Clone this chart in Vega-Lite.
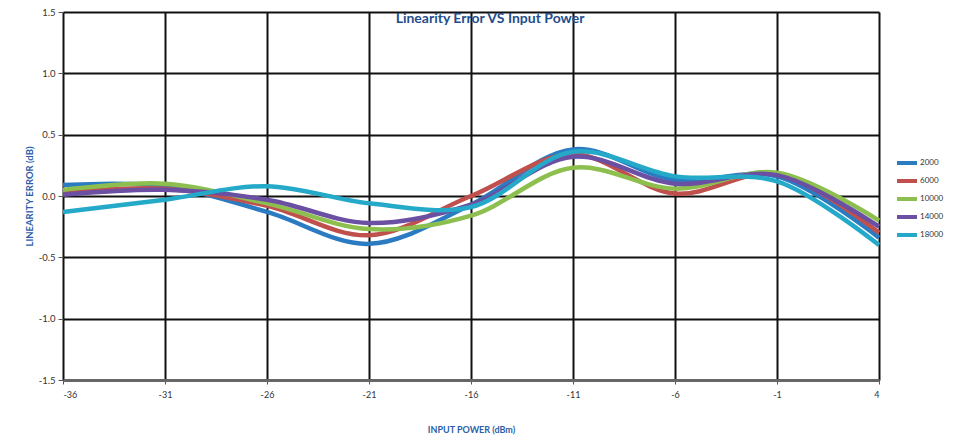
{
  "$schema": "https://vega.github.io/schema/vega-lite/v6.json",
  "width": 816,
  "height": 368,
  "autosize": {"type": "none"},
  "padding": {"left": 63, "top": 12, "right": 90, "bottom": 60},
  "background": "white",
  "config": {"view": {"stroke": null}, "font": "Lato"},
  "title": {
    "text": "Linearity Error VS Input Power",
    "color": "#1f4e8c",
    "fontSize": 14,
    "fontWeight": "bold",
    "font": "Lato",
    "anchor": "middle",
    "frame": "group",
    "offset": -19,
    "dx": 19
  },
  "data": {
    "values": [
      {"power": -36, "series": 2000, "error": 0.09},
      {"power": -31, "series": 2000, "error": 0.08},
      {"power": -26, "series": 2000, "error": -0.13},
      {"power": -21, "series": 2000, "error": -0.39},
      {"power": -16, "series": 2000, "error": -0.07},
      {"power": -11, "series": 2000, "error": 0.38},
      {"power": -6, "series": 2000, "error": 0.13},
      {"power": -1, "series": 2000, "error": 0.16},
      {"power": 4, "series": 2000, "error": -0.34},
      {"power": -36, "series": 6000, "error": 0.03},
      {"power": -31, "series": 6000, "error": 0.06},
      {"power": -26, "series": 6000, "error": -0.08},
      {"power": -21, "series": 6000, "error": -0.32},
      {"power": -16, "series": 6000, "error": 0.0},
      {"power": -11, "series": 6000, "error": 0.34},
      {"power": -6, "series": 6000, "error": 0.02},
      {"power": -1, "series": 6000, "error": 0.18},
      {"power": 4, "series": 6000, "error": -0.3},
      {"power": -36, "series": 10000, "error": 0.05},
      {"power": -31, "series": 10000, "error": 0.1},
      {"power": -26, "series": 10000, "error": -0.06},
      {"power": -21, "series": 10000, "error": -0.27},
      {"power": -16, "series": 10000, "error": -0.16},
      {"power": -11, "series": 10000, "error": 0.23},
      {"power": -6, "series": 10000, "error": 0.06},
      {"power": -1, "series": 10000, "error": 0.19},
      {"power": 4, "series": 10000, "error": -0.2},
      {"power": -36, "series": 14000, "error": 0.01},
      {"power": -31, "series": 14000, "error": 0.05},
      {"power": -26, "series": 14000, "error": -0.03},
      {"power": -21, "series": 14000, "error": -0.22},
      {"power": -16, "series": 14000, "error": -0.07},
      {"power": -11, "series": 14000, "error": 0.32},
      {"power": -6, "series": 14000, "error": 0.1},
      {"power": -1, "series": 14000, "error": 0.17},
      {"power": 4, "series": 14000, "error": -0.25},
      {"power": -36, "series": 18000, "error": -0.13},
      {"power": -31, "series": 18000, "error": -0.03},
      {"power": -26, "series": 18000, "error": 0.08},
      {"power": -21, "series": 18000, "error": -0.06},
      {"power": -16, "series": 18000, "error": -0.09},
      {"power": -11, "series": 18000, "error": 0.36},
      {"power": -6, "series": 18000, "error": 0.16},
      {"power": -1, "series": 18000, "error": 0.12},
      {"power": 4, "series": 18000, "error": -0.4}
    ]
  },
  "encoding": {
    "x": {
      "field": "power",
      "type": "quantitative",
      "scale": {"domain": [-36, 4], "nice": false, "zero": false},
      "axis": {
        "title": "INPUT POWER (dBm)",
        "values": [-36, -31, -26, -21, -16, -11, -6, -1, 4],
        "labelExpr": "replace(format(datum.value, 'd'), '\u2212', '-')",
        "grid": true,
        "gridColor": "#111111",
        "gridWidth": 2,
        "gridOpacity": 1,
        "domainColor": "#666666",
        "domainWidth": 3,
        "tickColor": "#555555",
        "tickSize": 4,
        "labelPadding": 6,
        "labelFontSize": 9,
        "labelColor": "#333333",
        "titleColor": "#2a5ea8",
        "titleFontSize": 9,
        "titleFontWeight": "bold",
        "titlePadding": 26
      }
    },
    "y": {
      "field": "error",
      "type": "quantitative",
      "scale": {"domain": [-1.5, 1.5], "nice": false},
      "axis": {
        "title": "LINEARITY ERROR (dB)",
        "values": [-1.5, -1.0, -0.5, 0.0, 0.5, 1.0, 1.5],
        "labelExpr": "replace(format(datum.value, '.1f'), '\u2212', '-')",
        "grid": true,
        "gridColor": "#111111",
        "gridWidth": 2,
        "gridOpacity": 1,
        "domain": false,
        "tickColor": "#555555",
        "tickSize": 5,
        "labelPadding": 3,
        "labelFontSize": 9.5,
        "labelColor": "#333333",
        "titleColor": "#2a5ea8",
        "titleFontSize": 9.5,
        "titleFontWeight": "bold",
        "titlePadding": 4
      }
    },
    "color": {
      "field": "series",
      "type": "nominal",
      "scale": {
        "domain": [2000, 6000, 10000, 14000, 18000],
        "range": ["#2a7bc2", "#c0504d", "#8dbf4f", "#6a4fa3", "#25a9c8"]
      },
      "legend": {
        "title": null,
        "orient": "none",
        "legendX": 832,
        "legendY": 145,
        "symbolType": "stroke",
        "symbolStrokeWidth": 4,
        "symbolSize": 400,
        "clipHeight": 12,
        "labelFontSize": 8,
        "labelColor": "#333333",
        "rowPadding": 6,
        "labelOffset": 1
      }
    }
  },
  "layer": [
    {
      "mark": {"type": "line", "interpolate": "catmull-rom", "strokeWidth": 4.5}
    }
  ]
}
